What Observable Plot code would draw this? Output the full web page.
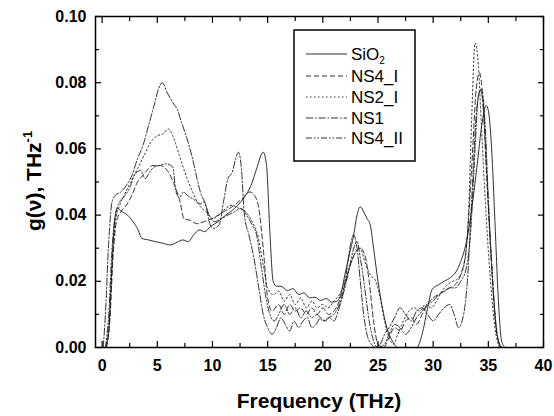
<!DOCTYPE html>
<html><head><meta charset="utf-8">
<script src="https://cdn.jsdelivr.net/npm/d3@7"></script>
<script src="https://cdn.jsdelivr.net/npm/@observablehq/plot@0.6"></script>
<style>body{margin:0;background:#fff} #chart{position:relative;width:554px;height:416px}</style>
</head><body><div id="chart"></div>
<script>
const seriesNames = ["SiO2", "NS4_I", "NS2_I", "NS1", "NS4_II"];

const sio2F = [0.3,0.6,0.9,1.1,1.4,1.8,2.3,2.8,3.2,3.6,4.2,4.8,5.5,6.2,6.8,7.3,7.8,8.3,8.8,9.3,9.8,10.5,11.2,12,12.8,13.5,14.0,14.6,14.9,15.2,15.5,15.8,16.2,16.8,17.3,17.8,18.3,18.8,19.3,19.8,20.3,20.8,21.3,21.7,22.0,22.4,22.8,23.1,23.4,23.7,24.0,24.3,24.6,25.0,25.4,25.8,26.3,26.8,27.5,28.5,29.0,29.5,29.9,30.5,31.0,31.6,32.1,32.5,32.8,33.1,33.5,34.0,34.4,34.8,35.0,35.3,35.6,35.9,36.2,36.5];
const sio2G = [0,0.005,0.025,0.037,0.042,0.041,0.040,0.038,0.036,0.033,0.0325,0.032,0.0315,0.031,0.0318,0.0325,0.032,0.034,0.0355,0.035,0.0365,0.038,0.040,0.042,0.045,0.049,0.054,0.059,0.055,0.035,0.020,0.0185,0.0185,0.0172,0.0178,0.016,0.0165,0.015,0.0152,0.0142,0.0148,0.0137,0.014,0.017,0.022,0.028,0.034,0.040,0.0425,0.041,0.039,0.037,0.030,0.020,0.012,0.006,0.002,0,0,0,0.004,0.012,0.0175,0.019,0.020,0.0212,0.023,0.026,0.029,0.0333,0.042,0.0555,0.067,0.0731,0.0716,0.060,0.038,0.015,0.002,0];

const ns4iF = [0.4,0.7,1.0,1.3,1.7,2.2,2.7,3.2,3.7,4.2,4.6,5.2,5.9,6.5,7.1,7.4,8.0,8.6,9.2,10,11,12,12.7,13.4,13.8,14.2,14.6,15.0,15.4,16,16.5,17,17.5,18,18.5,19,19.5,20,20.5,21,21.5,22,22.5,23.0,23.4,23.8,24.2,24.6,25.0,25.5,26.0,26.5,27,27.5,28,28.5,29,29.5,30,30.5,31,31.5,32,32.5,33,33.5,33.9,34.2,34.5,34.8,35.2,35.6,36.0,36.3];
const ns4iG = [0,0.008,0.028,0.038,0.041,0.043,0.046,0.050,0.052,0.054,0.055,0.055,0.0535,0.0495,0.0435,0.039,0.0384,0.0374,0.038,0.039,0.041,0.043,0.045,0.047,0.046,0.042,0.030,0.015,0.011,0.013,0.010,0.013,0.011,0.012,0.010,0.012,0.010,0.012,0.010,0.011,0.014,0.019,0.025,0.029,0.030,0.028,0.020,0.008,0.001,0,0.003,0.006,0.005,0.008,0.009,0.007,0.010,0.013,0.015,0.016,0.017,0.018,0.019,0.022,0.030,0.055,0.078,0.083,0.075,0.055,0.030,0.010,0.001,0];

const ns2iF = [0.3,0.6,0.9,1.2,1.6,2.0,2.6,3.2,3.8,4.4,5.0,5.5,6.0,6.4,7.0,7.6,8.2,8.8,9.4,10,10.6,11.2,11.8,12.4,13,13.6,14.1,14.6,15.0,15.5,16,16.5,17,17.5,18,18.5,19,19.5,20,20.5,21,21.5,22,22.5,23,23.4,23.8,24.3,24.8,25.2,25.6,26,26.4,26.8,27.3,27.8,28.3,28.8,29.3,29.8,30.3,30.8,31.3,31.8,32.3,32.8,33.2,33.5,33.8,34.1,34.4,34.8,35.2,35.6,36.0];
const ns2iG = [0,0.006,0.025,0.038,0.043,0.046,0.050,0.054,0.058,0.062,0.064,0.0645,0.066,0.064,0.058,0.052,0.047,0.043,0.041,0.039,0.040,0.042,0.043,0.042,0.041,0.038,0.034,0.025,0.018,0.016,0.017,0.014,0.016,0.013,0.015,0.012,0.014,0.012,0.013,0.012,0.014,0.016,0.020,0.025,0.029,0.030,0.026,0.022,0.020,0.015,0.008,0.003,0.001,0.004,0.008,0.011,0.012,0.011,0.013,0.012,0.014,0.017,0.019,0.020,0.021,0.025,0.040,0.070,0.092,0.085,0.065,0.040,0.020,0.006,0];

const ns1F = [0.1,0.3,0.6,0.9,1.2,1.7,2.2,2.7,3.2,3.7,4.2,4.7,5.1,5.45,5.9,6.4,6.8,7.2,7.7,8.2,8.6,8.9,9.4,9.8,10.1,10.6,11.0,11.4,11.8,12.1,12.35,12.6,12.9,13.3,13.7,14.2,14.6,15.0,15.4,15.8,16.2,16.6,17.0,17.4,17.8,18.2,18.6,19.0,19.4,19.8,20.2,20.6,21.0,21.4,21.8,22.2,22.5,22.8,23.1,23.4,23.7,24.0,24.4,24.8,25.2,25.6,26.0,26.5,27.0,27.5,28.0,28.5,29.0,29.5,30.0,30.5,31.0,31.5,31.9,32.3,32.7,33.1,33.5,33.9,34.3,34.6,34.9,35.3,35.7,36.1];
const ns1G = [0,0.01,0.032,0.044,0.046,0.047,0.049,0.052,0.057,0.061,0.067,0.073,0.078,0.080,0.077,0.074,0.072,0.068,0.063,0.057,0.051,0.047,0.043,0.037,0.036,0.037,0.044,0.051,0.053,0.057,0.059,0.055,0.040,0.034,0.028,0.018,0.010,0.006,0.004,0.006,0.009,0.007,0.005,0.008,0.006,0.008,0.009,0.006,0.007,0.009,0.008,0.009,0.008,0.011,0.016,0.024,0.031,0.034,0.030,0.020,0.010,0.004,0.001,0,0.001,0.004,0.006,0.009,0.012,0.010,0.008,0.011,0.012,0.010,0.008,0.010,0.012,0.013,0.010,0.006,0.009,0.020,0.045,0.070,0.078,0.070,0.050,0.025,0.006,0];

const ns4iiF = [0.3,0.6,0.9,1.2,1.6,2.1,2.6,2.9,3.5,3.9,4.3,4.7,5.2,5.8,6.4,6.7,7.0,7.4,7.7,8.2,8.9,9.2,9.7,10.2,10.8,11.4,12.0,12.6,13.1,13.6,14.0,14.4,14.8,15.2,15.6,16.0,16.5,17.0,17.5,18,18.5,19,19.5,20,20.5,21,21.5,22,22.4,22.8,23.1,23.4,23.8,24.2,24.6,25.0,25.6,26,26.5,27,27.5,28,28.5,29,29.5,30,30.5,31,31.5,32,32.5,33,33.4,33.8,34.1,34.4,34.7,35.0,35.4,35.8,36.2];
const ns4iiG = [0,0.010,0.030,0.040,0.044,0.046,0.049,0.052,0.0535,0.051,0.053,0.0545,0.055,0.0555,0.0545,0.047,0.0454,0.047,0.046,0.045,0.0434,0.044,0.040,0.038,0.039,0.040,0.041,0.042,0.040,0.037,0.034,0.025,0.016,0.010,0.008,0.010,0.013,0.010,0.012,0.009,0.011,0.009,0.010,0.008,0.009,0.010,0.013,0.018,0.024,0.030,0.032,0.027,0.018,0.008,0.002,0,0.001,0.004,0.007,0.006,0.004,0.006,0.009,0.011,0.013,0.014,0.016,0.017,0.018,0.018,0.020,0.024,0.035,0.060,0.076,0.078,0.068,0.045,0.020,0.004,0];

const xMajor = [0,5,10,15,20,25,30,35,40];
const xMinor = [2.5,7.5,12.5,17.5,22.5,27.5,32.5,37.5];
const yMajor = [0,0.02,0.04,0.06,0.08,0.10];
const yMinor = [0.01,0.03,0.05,0.07,0.09];

const dashes = {SiO2: null, NS4_I: "5,3", NS2_I: "1.5,2.5", NS1: "7,2,1.5,2", NS4_II: "6,2,1.5,2,1.5,2"};
const rawF = [sio2F, ns4iF, ns2iF, ns1F, ns4iiF];
const rawG = [sio2G, ns4iG, ns2iG, ns1G, ns4iiG];
const tables = seriesNames.map((s, k) => rawF[k].map((f, i) => ({series: s, f, g: rawG[k][i]})));

const font = "'Liberation Sans', Arial, sans-serif";
const blank = () => "";

const plot = Plot.plot({
  width: 554, height: 416,
  marginLeft: 95, marginRight: 11, marginTop: 16, marginBottom: 69,
  style: {fontFamily: font, fontSize: "16px", fontWeight: "bold", color: "#000", background: "#fff"},
  x: {domain: [-0.6, 40]},
  y: {domain: [0, 0.1]},
  marks: [
    ...tables.map((t, k) => Plot.line(t, {x: "f", y: "g", stroke: "#1a1a1a", strokeWidth: 0.9, strokeDasharray: dashes[seriesNames[k]], curve: "monotone-x"})),
    Plot.axisX(xMajor, {anchor: "bottom", tickSize: -6, tickPadding: 18, strokeWidth: 1.2, label: null, fontSize: 16, fontWeight: "bold"}),
    Plot.axisX(xMinor, {anchor: "bottom", tickSize: -4, tickFormat: blank, strokeWidth: 1.2, label: null}),
    Plot.axisX(xMajor, {anchor: "top", tickSize: -6, tickFormat: blank, strokeWidth: 1.2, label: null}),
    Plot.axisX(xMinor, {anchor: "top", tickSize: -4, tickFormat: blank, strokeWidth: 1.2, label: null}),
    Plot.axisY(yMajor, {anchor: "left", tickSize: -6, tickPadding: 15, tickFormat: d3.format(".2f"), strokeWidth: 1.2, label: null, fontSize: 16, fontWeight: "bold"}),
    Plot.axisY(yMinor, {anchor: "left", tickSize: -4, tickFormat: blank, strokeWidth: 1.2, label: null}),
    Plot.axisY(yMajor, {anchor: "right", tickSize: -6, tickFormat: blank, strokeWidth: 1.2, label: null}),
    Plot.axisY(yMinor, {anchor: "right", tickSize: -4, tickFormat: blank, strokeWidth: 1.2, label: null}),
    Plot.frame({stroke: "#000", strokeWidth: 1.5})
  ]
});
document.getElementById("chart").appendChild(plot);

const svg = d3.select(plot);
// axis titles
svg.append("text").attr("x", 319).attr("y", 408).attr("text-anchor", "middle")
  .style("font-family", font).style("font-size", "21px").style("font-weight", "bold").attr("fill", "#000")
  .text("Frequency (THz)");
const yt = svg.append("text").attr("transform", "translate(41,181) rotate(-90)").attr("text-anchor", "middle")
  .style("font-family", font).style("font-size", "21px").style("font-weight", "bold").attr("fill", "#000");
yt.append("tspan").text("g(\u03BD), THz");
yt.append("tspan").attr("dy", -9).style("font-size", "13px").text("-1");

// legend
const lg = svg.append("g").attr("text-anchor", "start");
lg.append("rect").attr("x", 294).attr("y", 30).attr("width", 121).attr("height", 131)
  .attr("fill", "#fff").attr("stroke", "#000").attr("stroke-width", 1.5);
const rowsY = [54, 76, 97, 118, 138];
seriesNames.forEach((s, i) => {
  lg.append("line").attr("x1", 306).attr("x2", 347).attr("y1", rowsY[i]).attr("y2", rowsY[i])
    .attr("stroke", "#1a1a1a").attr("stroke-width", 0.9).attr("stroke-dasharray", dashes[s]);
  const t = lg.append("text").attr("x", 351).attr("y", rowsY[i] + 6).attr("text-anchor", "start")
    .style("font-family", font).style("font-size", "17px").style("font-weight", "normal").attr("fill", "#000");
  if (s === "SiO2") {
    t.append("tspan").text("SiO");
    t.append("tspan").attr("dy", 4).style("font-size", "10px").text("2");
  } else t.text(s);
});
</script></body></html>
